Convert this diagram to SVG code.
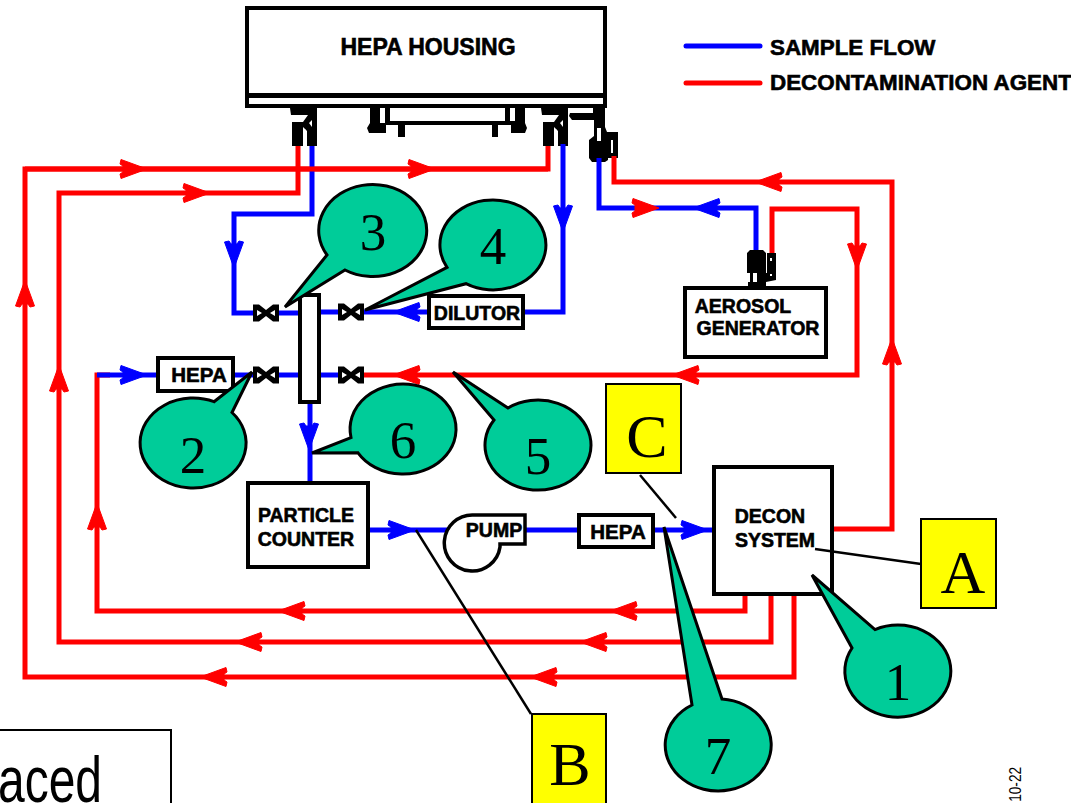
<svg xmlns="http://www.w3.org/2000/svg" width="1071" height="803" viewBox="0 0 1071 803">
<style>
.box{fill:#fff;stroke:#000;stroke-width:4}
.lbl{font-family:"Liberation Sans",Arial,sans-serif;font-weight:bold;font-size:19.5px;fill:#000;stroke:#000;stroke-width:.6;text-anchor:middle}
.hp{font-size:20.5px}
.lg{font-size:22.4px;text-anchor:start}
.r{fill:none;stroke:#f00;stroke-width:5;stroke-linejoin:miter}
.b{fill:none;stroke:#00f;stroke-width:5}
.ra{fill:#f00;stroke:#f00;stroke-width:1}.ba{fill:#00f;stroke:#00f;stroke-width:1}
.call{fill:#00cc99;stroke:#000;stroke-width:3;stroke-linejoin:miter}
.num{font-family:"Liberation Serif","Times New Roman",serif;font-size:53px;fill:#000;text-anchor:middle}
.y{fill:#ff0;stroke:#000;stroke-width:2}
.let{font-family:"Liberation Serif","Times New Roman",serif;font-size:62px;fill:#000;text-anchor:middle}
.lead{stroke:#000;stroke-width:2.5;fill:none}
.k{fill:#000}
.w{fill:#fff}
</style>
<defs>
<path id="ah" d="M0 0L-26-9.5-27-5-24-3V3L-27 5-26 9.5Z" stroke-linejoin="round"/>
<g id="valve"><path d="M-13-8.5H-7L0-3 7-8.5H13V8.5H7L0 3-7 8.5H-13Z" fill="#000"/><path d="M-9-3L-4 0-9 3ZM9-3L4 0 9 3Z" fill="#fff"/></g>
<g id="fit"><path class="k" d="M290 108H317V146H307V131L303 127V146H292V122H303L308 115H291Z"/><path class="w" d="M309 123l3-3v7zM303 128l3 2v12h-3z"/></g>
</defs>

<g id="hepa-housing">
<rect x="247" y="8" width="358" height="98" fill="#fff" stroke="#000" stroke-width="4"/>
<rect x="247" y="93" width="358" height="5" fill="#000"/>
<text class="lbl" x="428" y="55" style="font-size:23px">HEPA HOUSING</text>
</g>
<g id="fittings">
<use href="#fit"/>
<use href="#fit" x="251"/>
<path class="k" d="M370 108H380V123H386V133H369L367 128 370 123ZM385 108H390V121H505V108H510V121H515V108H525V123L527 128 525 133H511V125H498V137H492V125H405V137H398V125H385Z"/>
<path class="k" d="M570 113H593V108H605V127L607 132H618V158H608V160L605 162H592L589 158V140L594 136V120H572L569 116Z"/>
<path class="w" d="M597 128h4v13h-4zM611 140h2v13h-2z"/>
</g>

<g id="connectors">
<path class="r" d="M794 592V677H25V169H548V146"/>
<path class="r" d="M771 592V642H59V193H298V146"/>
<path class="r" d="M745 592V611H97V375H110"/>
<path class="r" d="M832 529H892V182H614V156"/>
<path class="r" d="M772 256V209H857V375H362"/>
<path class="b" d="M312 146V214H234V313H300"/>
<path class="b" d="M563 144V312H523"/>
<path class="b" d="M430 312H316"/>
<path class="b" d="M318 375H345"/>
<path class="b" d="M97 375H160"/>
<path class="b" d="M230 375H300"/>
<path class="b" d="M310 402V483"/>
<path class="b" d="M368 530H450"/>
<path class="b" d="M525 530H581"/>
<path class="b" d="M652 530H715"/>
<path class="b" d="M599 158V208H756V254"/>
<path class="r" d="M25 169H548"/>
<g class="ra">
<use href="#ah" transform="translate(147,169)"/>
<use href="#ah" transform="translate(435,169)"/>
<use href="#ah" transform="translate(210,193)"/>
<use href="#ah" transform="translate(25,280) rotate(-90)"/>
<use href="#ah" transform="translate(59,365) rotate(-90)"/>
<use href="#ah" transform="translate(97,503) rotate(-90)"/>
<use href="#ah" transform="translate(892,338) rotate(-90)"/>
<use href="#ah" transform="translate(755,182) rotate(180)"/>
<use href="#ah" transform="translate(672,375) rotate(180)"/>
<use href="#ah" transform="translate(393,375) rotate(180)"/>
<use href="#ah" transform="translate(857,270) rotate(90)"/>
<use href="#ah" transform="translate(278,611) rotate(180)"/>
<use href="#ah" transform="translate(610,611) rotate(180)"/>
<use href="#ah" transform="translate(235,642) rotate(180)"/>
<use href="#ah" transform="translate(580,642) rotate(180)"/>
<use href="#ah" transform="translate(200,677) rotate(180)"/>
<use href="#ah" transform="translate(530,677) rotate(180)"/>
<use href="#ah" transform="translate(659,208)"/>
</g>
<g class="ba">
<use href="#ah" transform="translate(693,208) rotate(180)"/>
<use href="#ah" transform="translate(234,268) rotate(90)"/>
<use href="#ah" transform="translate(563,232) rotate(90)"/>
<use href="#ah" transform="translate(393,312) rotate(180)"/>
<use href="#ah" transform="translate(147,375)"/>
<use href="#ah" transform="translate(309,450) rotate(90)"/>
<use href="#ah" transform="translate(415,530)"/>
<use href="#ah" transform="translate(708,530)"/>
</g>
<use href="#valve" x="266" y="313"/>
<use href="#valve" x="351" y="312"/>
<use href="#valve" x="266" y="375"/>
<use href="#valve" x="351" y="375"/>
</g>

<g id="column"><rect class="box" x="300" y="295" width="19" height="107"/></g>
<g id="hepa-2"><rect class="box" x="158" y="358" width="75" height="33"/><text class="lbl hp" x="199" y="382">HEPA</text></g>
<g id="dilutor"><rect class="box" x="429" y="296" width="94" height="32"/><text class="lbl" x="477" y="320">DILUTOR</text></g>
<g id="aerosol-generator">
<path class="k" d="M747 253L750 250H763L766 253V273H767V253H776V280L766 282V286H748V282H750V273H747Z"/>
<path class="w" d="M753 273h4v9h-4zM770 258h2v3h-2zM770 274h2v2h-2z"/>
<rect class="box" x="685" y="288" width="141" height="69"/>
<text class="lbl" x="743" y="313">AEROSOL</text><text class="lbl" x="758" y="335">GENERATOR</text>
</g>
<g id="particle-counter"><rect class="box" x="248" y="483" width="120" height="84"/><text class="lbl" x="306" y="522">PARTICLE</text><text class="lbl" x="306" y="546">COUNTER</text></g>
<g id="pump"><path d="M525 515H473A28 28 0 1 0 500 547V544H525Z" fill="#fff" stroke="#000" stroke-width="3.5"/><text class="lbl" x="494" y="537">PUMP</text></g>
<g id="hepa-3"><rect class="box" x="579" y="515" width="74" height="32"/><text class="lbl hp" x="618" y="539">HEPA</text></g>
<g id="decon-system"><rect class="box" x="714" y="467" width="118" height="127"/><text class="lbl" x="770" y="523">DECON</text><text class="lbl" x="775" y="547">SYSTEM</text></g>

<g id="legend">
<path class="b" d="M686 46H760" stroke-linecap="round"/>
<path class="r" d="M686 83H760" stroke-linecap="round"/>
<text class="lbl lg" x="770" y="55">SAMPLE FLOW</text>
<text class="lbl lg" x="770" y="90">DECONTAMINATION AGENT</text>
</g>

<g id="callout-3"><path class="call" d="M285 307L327 255A54 46 0 1 1 345 270Z"/><text class="num" x="373" y="250">3</text></g>
<g id="callout-4"><path class="call" d="M365 310L447 267.4A53 45 0 1 1 466 283.7Z"/><text class="num" x="493" y="264">4</text></g>
<g id="callout-2"><path class="call" d="M252 372L232 412.5A53 45 0 1 1 214 401.7Z"/><text class="num" x="193" y="473">2</text></g>
<g id="callout-6"><path class="call" d="M312 453L351 437.6A53 45 0 1 1 358 452.8Z"/><text class="num" x="403" y="458">6</text></g>
<g id="callout-5"><path class="call" d="M453 372L508 408A53 45 0 1 1 494 420Z"/><text class="num" x="538" y="474">5</text></g>
<g id="callout-1"><path class="call" d="M812 575L875 629.6A53 46 0 1 1 852 648Z"/><text class="num" x="898" y="700">1</text></g>
<g id="callout-7"><path class="call" d="M664 527L722 699.1A53 46 0 1 1 692 705Z"/><text class="num" x="718" y="774">7</text></g>

<g id="note-a"><path class="lead" d="M815 549L921 564"/><rect class="y" x="921" y="519" width="75" height="89"/><text class="let" x="963" y="593">A</text></g>
<g id="note-b"><path class="lead" d="M416 530L531 714"/><rect class="y" x="532" y="714" width="74" height="95"/><text class="let" x="570" y="785">B</text></g>
<g id="note-c"><path class="lead" d="M640 475L676 518"/><rect class="y" x="606" y="384" width="75" height="89"/><text class="let" x="647" y="457">C</text></g>

<g id="caption"><rect x="-10" y="730" width="181" height="90" fill="#fff" stroke="#000" stroke-width="2"/>
<text transform="translate(-2,802) scale(.75,1)" font-family="'Liberation Sans',Arial,sans-serif" font-size="64" fill="#000">aced</text></g>
<text transform="translate(1021,767) rotate(-90) scale(.8,1)" text-anchor="end" font-family="'Liberation Sans',Arial,sans-serif" font-size="17" fill="#000">10-22</text>
</svg>
